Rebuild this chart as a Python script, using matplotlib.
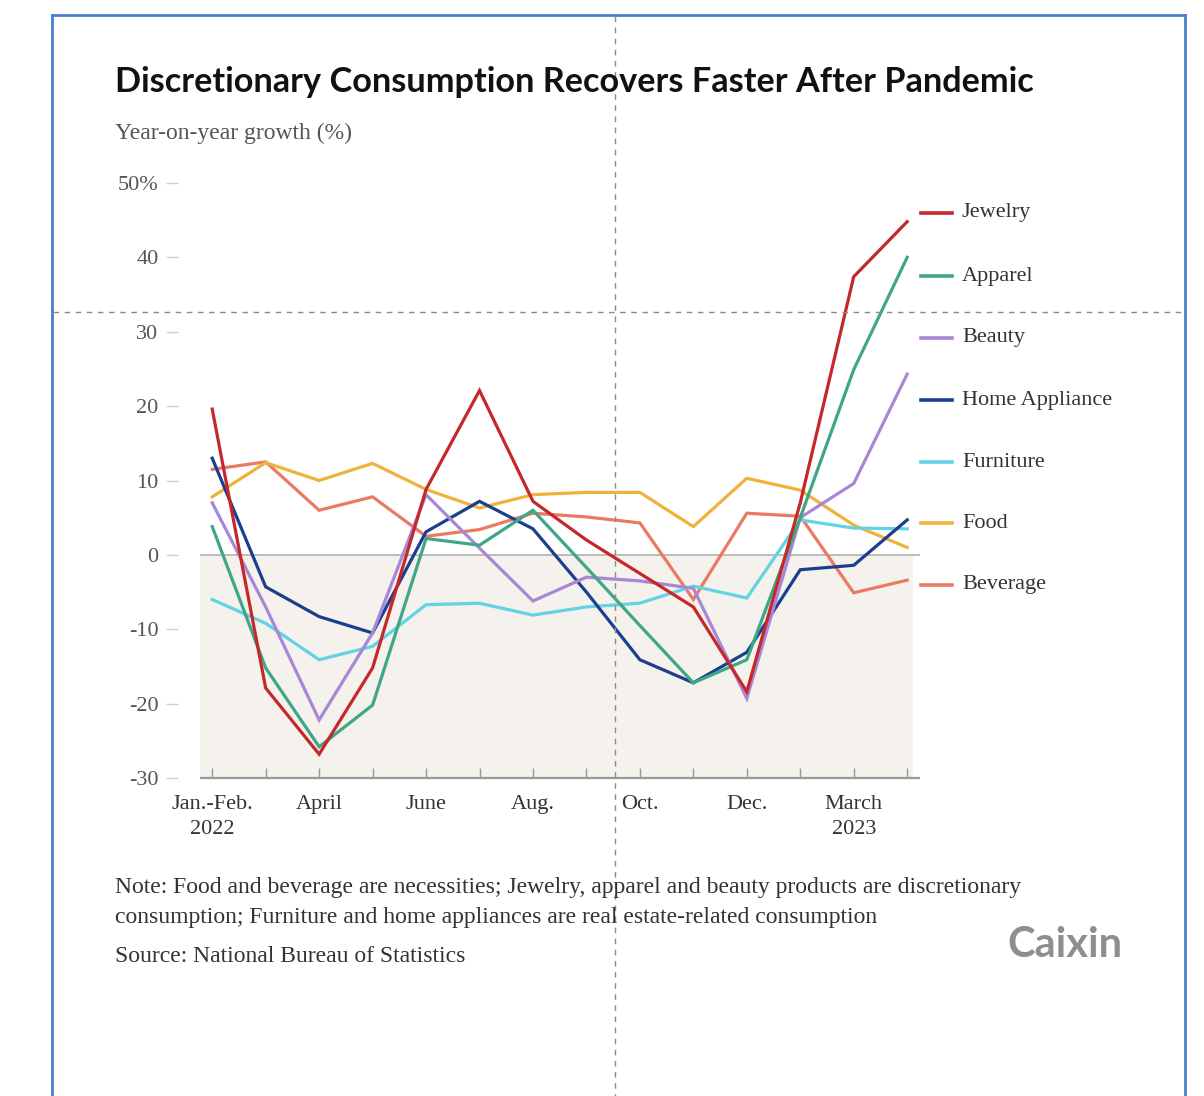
import matplotlib
matplotlib.use("Agg")
import matplotlib.pyplot as plt
from matplotlib.lines import Line2D

# monthly year-on-year retail sales growth (%), Jan.-Feb. 2022 .. April 2023
months = ["Jan.-Feb.\n2022", "March", "April", "May", "June", "July", "Aug.",
          "Sep.", "Oct.", "Nov.", "Dec.", "Jan.-Feb.\n2023", "March\n2023", "April\n2023"]
shown_ticks = ["Jan.-Feb.\n2022", "April", "June", "Aug.", "Oct.", "Dec.", "March\n2023"]

jewelry = [19.6, -17.9, -26.8, -15.2, 8.8, 22.1, 7.2, 2.0, -2.5, -7.0, -18.4, 7.0, 37.4, 44.8]
apparel = [3.8, -15.2, -25.8, -20.2, 2.2, 1.3, 6.0, -1.7, -9.5, -17.2, -14.1, 5.0, 24.9, 40.0]
beauty = [7.0, -7.0, -22.2, -10.5, 8.1, 0.9, -6.2, -3.0, -3.5, -4.5, -19.3, 5.0, 9.6, 24.3]
home_appliance = [13.0, -4.3, -8.3, -10.5, 3.1, 7.2, 3.5, -5.0, -14.1, -17.2, -13.1, -2.0, -1.4, 4.7]
furniture = [-6.0, -9.2, -14.1, -12.3, -6.7, -6.5, -8.1, -7.0, -6.5, -4.2, -5.8, 4.7, 3.6, 3.5]
food = [7.8, 12.4, 10.0, 12.3, 8.8, 6.3, 8.1, 8.4, 8.4, 3.8, 10.3, 8.7, 4.0, 1.0]
beverage = [11.5, 12.5, 6.0, 7.8, 2.5, 3.4, 5.6, 5.1, 4.3, -6.0, 5.6, 5.2, -5.1, -3.4]

names = ["Jewelry", "Apparel", "Beauty", "Home Appliance", "Furniture", "Food", "Beverage"]
series = [jewelry, apparel, beauty, home_appliance, furniture, food, beverage]
colors = ["#c4282a", "#3fa687", "#a887d6", "#1b3f8e", "#62d3e4", "#f0b23a", "#ea7a62"]

yticks = [50, 40, 30, 20, 10, 0, -10, -20, -30]
ytick_labels = ["50%", "40", "30", "20", "10", "0", "-10", "-20", "-30"]

W, H = 1204, 1096
serif = "Liberation Serif"

fig = plt.figure(figsize=(W / 100, H / 100), dpi=100)
fig.patch.set_facecolor("white")


def fx(px):
    return px / W


def fy(py):
    return 1 - py / H


ax = fig.add_axes([fx(178), fy(778), fx(920) - fx(178), fy(183) - fy(778)])
x = list(range(len(months)))
ax.set_xlim(-0.64, 13.24)
ax.set_ylim(-30, 50)

# shaded negative band, zero line and baseline
ax.fill_between([-0.22, 13.1], -30, 0, color="#f5f1ec", lw=0, zorder=0)
ax.hlines(0, -0.22, 13.24, color="#b5b0aa", lw=1.2, zorder=1)
ax.hlines(-30, -0.22, 13.24, color="#9a9a9a", lw=1.6, zorder=1, clip_on=False)

for name, vals, c in reversed(list(zip(names, series, colors))):
    ax.plot(x, vals, color=c, lw=2.3, solid_joinstyle="miter", zorder=3)

for s in ax.spines.values():
    s.set_visible(False)

ax.set_xticks(x)
ax.set_xticklabels([m if m in shown_ticks else "" for m in months],
                   family=serif, fontsize=16, color="#333333", linespacing=1.45)
ax.tick_params(axis="x", direction="in", length=7, color="#999999", width=1, pad=12)
ax.set_yticks(yticks)
ax.set_yticklabels(ytick_labels, family=serif, fontsize=16, color="#555555")
ax.tick_params(axis="y", direction="out", length=9, color="#d0d0d0", width=1, pad=5)

# legend on the right
leg_y = [213, 276, 338, 400, 462, 523, 585]
for name, c, py in zip(names, colors, leg_y):
    fig.add_artist(Line2D([fx(921), fx(952)], [fy(py), fy(py)], color=c, lw=2.6))
    fig.text(fx(962), fy(py), name, family=serif, fontsize=16, color="#333333",
             va="center", ha="left")

# titles
fig.text(fx(115), fy(92), "Discretionary Consumption Recovers Faster After Pandemic",
         family="Lato", weight="bold", fontsize=24.7,
         color="#111111", va="baseline", ha="left")
fig.text(fx(115), fy(133), "Year-on-year growth (%)", family=serif, fontsize=17,
         color="#555555", va="center", ha="left")

# notes
note1 = "Note: Food and beverage are necessities; Jewelry, apparel and beauty products are discretionary"
note2 = "consumption; Furniture and home appliances are real estate-related consumption"
fig.text(fx(115), fy(888), note1, family=serif, fontsize=17, color="#333333", va="center")
fig.text(fx(115), fy(918), note2, family=serif, fontsize=17, color="#333333", va="center")
fig.text(fx(115), fy(957), "Source: National Bureau of Statistics", family=serif,
         fontsize=17, color="#333333", va="center")
fig.text(fx(1065), fy(945), "Caixin", family="Lato",
         weight="bold", fontsize=30, color="#8e8e8e", va="center", ha="center")

# frame and guide lines
frame = dict(color="#4a7fd0", lw=2)
fig.add_artist(Line2D([fx(52), fx(1185)], [fy(15), fy(15)], **frame))
fig.add_artist(Line2D([fx(52), fx(52)], [fy(15), 0], **frame))
fig.add_artist(Line2D([fx(1185), fx(1185)], [fy(15), 0], **frame))
guide = dict(color="#8a8a8a", lw=1, linestyle=(0, (4, 4)))
fig.add_artist(Line2D([fx(615), fx(615)], [fy(16), 0], **guide))
fig.add_artist(Line2D([fx(53), fx(1184)], [fy(312), fy(312)], **guide))

fig.savefig("out.png", dpi=100)
